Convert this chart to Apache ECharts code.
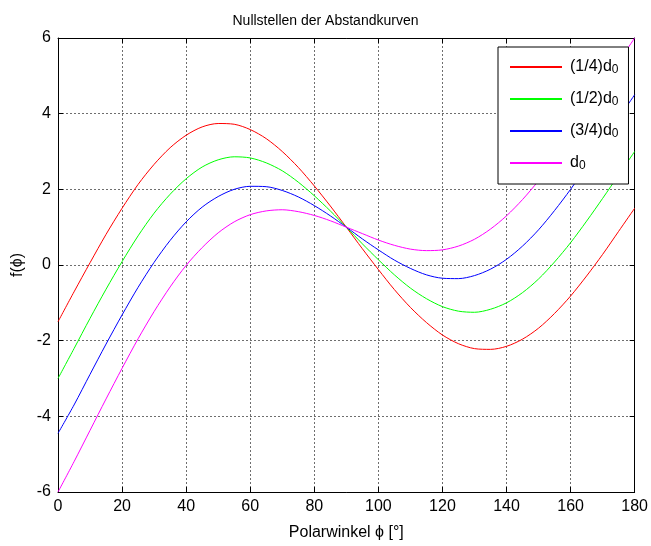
<!DOCTYPE html>
<html>
<head>
<meta charset="utf-8">
<title>Nullstellen der Abstandkurven</title>
<script src="https://cdn.jsdelivr.net/npm/echarts@6/dist/echarts.min.js"></script>
<style>
  html, body { margin: 0; padding: 0; background: #fff; }
  #chart { width: 651px; height: 546px; }
</style>
</head>
<body>
<div id="chart"></div>
<script>
// Polarwinkel in Grad
const phi = [0, 5, 10, 15, 20, 25, 30, 35, 40, 45, 50, 55, 60, 65, 70, 75, 80, 85, 90,
  95, 100, 105, 110, 115, 120, 125, 130, 135, 140, 145, 150, 155, 160, 165, 170, 175, 180];

// Kurven
const quarter = [-1.50, -0.71, 0.06, 0.81, 1.50, 2.13, 2.66, 3.10, 3.43, 3.65, 3.74, 3.72, 3.58,
  3.34, 3.00, 2.58, 2.09, 1.56, 1.00, 0.43, -0.12, -0.65, -1.12, -1.52, -1.85, -2.08, -2.21,
  -2.23, -2.15, -1.96, -1.67, -1.28, -0.82, -0.29, 0.28, 0.89, 1.50];
const half = [-3.00, -2.21, -1.41, -0.64, 0.09, 0.77, 1.37, 1.87, 2.28, 2.59, 2.78, 2.86, 2.83,
  2.70, 2.49, 2.19, 1.83, 1.43, 1.00, 0.56, 0.14, -0.26, -0.61, -0.89, -1.10, -1.22, -1.25,
  -1.17, -1.00, -0.73, -0.37, 0.08, 0.59, 1.16, 1.76, 2.38, 3.00];
const threeQuarter = [-4.45, -3.70, -2.89, -2.09, -1.32, -0.59, 0.07, 0.65, 1.14, 1.53, 1.81, 2.00, 2.08,
  2.07, 1.97, 1.80, 1.57, 1.30, 1.00, 0.69, 0.40, 0.13, -0.09, -0.26, -0.35, -0.36, -0.28,
  -0.11, 0.15, 0.50, 0.93, 1.44, 2.00, 2.61, 3.24, 3.88, 4.50];
const full = [-6.00, -5.20, -4.37, -3.54, -2.73, -1.95, -1.23, -0.58, -0.01, 0.46, 0.85, 1.14, 1.33,
  1.43, 1.46, 1.41, 1.31, 1.17, 1.00, 0.83, 0.66, 0.52, 0.42, 0.38, 0.40, 0.50, 0.68,
  0.95, 1.30, 1.73, 2.23, 2.80, 3.41, 4.05, 4.72, 5.37, 6.00];

const seriesNames = ['(1/4)d0', '(1/2)d0', '(3/4)d0', 'd0'];
const seriesColors = ['#ff0000', '#00ff00', '#0000ff', '#ff00ff'];
const seriesValues = [quarter, half, threeQuarter, full];

const FONT = 'Liberation Sans, Arial, sans-serif';

const chart = echarts.init(document.getElementById('chart'));

// Gitterlinien gestrichelt wie in MATLAB
const grid = {
  show: true,
  lineStyle: { color: '#6e6e6e', type: [2, 2], width: 1 }
};

// obere und rechte Achse nur als Rahmen mit Ticks
const boxAxis = {
  axisLine: { show: true, onZero: false, lineStyle: { color: '#000', width: 1 } },
  axisTick: { show: true, inside: true, length: 5, lineStyle: { color: '#000' } },
  axisLabel: { show: false },
  splitLine: { show: false }
};

const option = {
  backgroundColor: '#fff',
  animation: false,
  title: {
    text: 'Nullstellen der Abstandkurven',
    left: 'center',
    top: 9,
    textStyle: { fontFamily: FONT, fontSize: 14, fontWeight: 'normal', color: '#000' }
  },
  legend: {
    orient: 'vertical',
    left: 498,
    top: 47,
    padding: [12, 10, 12, 12],
    itemWidth: 52,
    itemHeight: 2,
    itemGap: 15,
    icon: 'rect',
    backgroundColor: '#fff',
    borderColor: '#000',
    borderWidth: 1,
    data: seriesNames.map((name, i) => ({ name: name, itemStyle: { color: seriesColors[i] } })),
    formatter: name => '{m|' + name.slice(0, -1) + '}{s|0}',
    textStyle: {
      fontFamily: FONT,
      color: '#000',
      rich: {
        m: { fontFamily: FONT, fontSize: 16, color: '#000', padding: [0, 0, 0, 3] },
        s: { fontFamily: FONT, fontSize: 12, color: '#000', padding: [6, 0, 0, 0] }
      }
    }
  },
  grid: { left: 58, right: 15, top: 38, bottom: 51 },
  xAxis: [
    {
      type: 'value',
      min: 0, max: 180, interval: 20,
      name: 'Polarwinkel \u03d5 [°]',
      nameLocation: 'middle',
      nameGap: 33,
      nameTextStyle: { fontFamily: FONT, fontSize: 16, color: '#000' },
      axisLine: { show: true, onZero: false, lineStyle: { color: '#000', width: 1 } },
      axisTick: { show: true, inside: true, length: 5, lineStyle: { color: '#000' } },
      axisLabel: { fontFamily: FONT, fontSize: 16, color: '#000', margin: 7 },
      splitLine: grid
    },
    Object.assign({ type: 'value', position: 'top', min: 0, max: 180, interval: 20 }, boxAxis)
  ],
  yAxis: [
    {
      type: 'value',
      min: -6, max: 6, interval: 2,
      name: 'f(\u03d5)',
      nameLocation: 'middle',
      nameRotate: 90,
      nameGap: 32,
      nameTextStyle: { fontFamily: FONT, fontSize: 16, color: '#000' },
      axisLine: { show: true, onZero: false, lineStyle: { color: '#000', width: 1 } },
      axisTick: { show: true, inside: true, length: 5, lineStyle: { color: '#000' } },
      axisLabel: { fontFamily: FONT, fontSize: 16, color: '#000', margin: 7 },
      splitLine: grid
    },
    Object.assign({ type: 'value', position: 'right', min: -6, max: 6, interval: 2 }, boxAxis)
  ],
  series: seriesNames.map((name, i) => ({
    name: name,
    type: 'line',
    smooth: 0.3,
    symbol: 'none',
    color: seriesColors[i],
    lineStyle: { color: seriesColors[i], width: 1 },
    data: phi.map((p, j) => [p, seriesValues[i][j]])
  }))
};

chart.setOption(option);
</script>
</body>
</html>
